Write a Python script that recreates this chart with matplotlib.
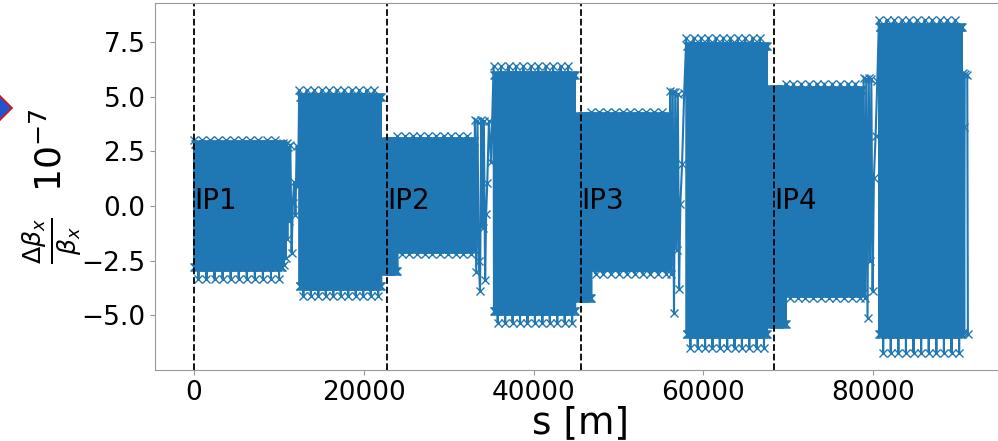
import matplotlib.pyplot as plt
import numpy as np
from matplotlib.patches import Polygon

# interaction points [m]
ip_s = [0, 22793, 45587, 68380]
ip_names = ['IP1', 'IP2', 'IP3', 'IP4']

# dense sections (arcs + IR blocks), values in 1e-7
sec_start   = [0, 12400, 22050, 23950, 35300, 44900, 46800, 58000, 67500, 69700, 80700]
sec_end     = [10400, 22050, 23950, 33000, 44900, 46800, 56000, 67500, 69700, 78800, 90500]
sec_hi_peak = [3.0, 5.3, 2.95, 3.2, 6.4, 4.1, 4.3, 7.7, 5.35, 5.6, 8.5]
sec_hi      = [2.85, 5.0, 2.95, 2.95, 6.0, 4.1, 4.1, 7.3, 5.35, 5.3, 8.2]
sec_lo      = [-2.8, -3.65, -2.95, -1.95, -4.8, -4.2, -2.8, -5.85, -5.4, -4.0, -5.85]
sec_lo_peak = [-3.35, -4.1, -2.95, -2.2, -5.35, -4.2, -3.1, -6.5, -5.4, -4.2, -6.7]
sec_periods = [11, 11, 2, 10, 11, 2, 10, 11, 2, 10, 11]

# one beat period: 0 = peak top, 1 = top, 2 = bottom, 3 = peak bottom
period_levels = [0, 2, 1, 2, 1, 2, 1, 2, 1, 2, 1, 3, 1, 2, 1, 2, 1, 2, 1, 2]

# dispersion suppressor transitions
t1_s = [10500, 10600, 10700, 10800, 10900, 11000, 11100, 11200, 11350, 11500, 11650, 11800, 11950, 12100, 12250]
t1_v = [2.9, -2.7, 2.8, -2.4, 2.9, -1.5, 2.7, -0.7, 2.8, -2.15, 0.15, 1.1, -0.4, 2.75, 0.9]
t2_s = [33100, 33250, 33400, 33550, 33700, 33850, 34000, 34150, 34300, 34420, 34550, 34750, 35000]
t2_v = [3.95, -3.0, 3.9, -2.5, -3.9, 3.95, -1.0, 3.9, -3.4, -0.35, 1.05, 3.9, 2.0]
t3_s = [56100, 56250, 56400, 56550, 56700, 56850, 57000, 57150, 57300, 57500, 57750]
t3_v = [5.25, -3.1, 5.2, -4.9, 5.2, -2.0, 5.1, -3.8, 0.1, 1.9, 5.15]
t4_s = [78900, 79050, 79200, 79350, 79500, 79650, 79800, 79950, 80100, 80300, 80500]
t4_v = [5.85, -4.2, 5.8, -5.1, 5.85, -2.5, 5.8, -3.9, 1.3, 3.2, 5.7]
tail_s = [90550, 90620, 90680, 90740, 90800, 91100, 91174]
tail_v = [6.1, -5.8, 3.6, -5.75, 6.05, 6.0, -5.85]

transitions = {1: (t1_s, t1_v), 4: (t2_s, t2_v), 7: (t3_s, t3_v), 10: (t4_s, t4_v)}


def section(i):
    levels = [sec_hi_peak[i], sec_hi[i], sec_lo[i], sec_lo_peak[i]]
    vals = np.array(levels)[np.tile(period_levels, sec_periods[i])]
    s = np.linspace(sec_start[i], sec_end[i], len(vals))
    return s, vals


s_all, v_all = [], []
for i in range(len(sec_start)):
    if i in transitions:
        s_all.append(transitions[i][0])
        v_all.append(transitions[i][1])
    s, v = section(i)
    s_all.append(s)
    v_all.append(v)
s_all.append(tail_s)
v_all.append(tail_v)
s_all = np.concatenate(s_all)
v_all = np.concatenate(v_all)

fig = plt.figure(figsize=(9.98, 4.41), dpi=100)
ax = fig.add_axes([0.1556, 0.161, 0.853, 0.832])

ax.plot(s_all, v_all, '-x', color='#1f77b4', lw=1.5, ms=6)

for ip, name in zip(ip_s, ip_names):
    ax.axvline(ip, color='k', ls='--', lw=1.3)
    ax.text(ip, -0.15, name, fontsize=20)

ax.set_xlim(-4559, 95733)
ax.set_ylim(-7.5, 9.28)
ax.set_yticks([-5.0, -2.5, 0.0, 2.5, 5.0, 7.5])
ax.set_xticks([0, 20000, 40000, 60000, 80000])
ax.tick_params(labelsize=19, color='0.6')
for sp in ax.spines.values():
    sp.set_color('0.6')

ax.set_xlabel('s [m]', fontsize=27, labelpad=-0.5)
ax.set_ylabel(r'$\frac{\Delta\beta_x}{\beta_x}$  $10^{-7}$', fontsize=26)
ax.yaxis.set_label_coords(-0.084, 0.5)

# slide marker cut at the left edge
fig.patches.append(Polygon([(12 / 998, 333 / 441), (0, 345 / 441), (-12 / 998, 333 / 441), (0, 321 / 441)],
                           closed=True, transform=fig.transFigure, facecolor='#2255cc',
                           edgecolor='#dd1111', lw=1.2))

fig.savefig('out.png', dpi=100)
